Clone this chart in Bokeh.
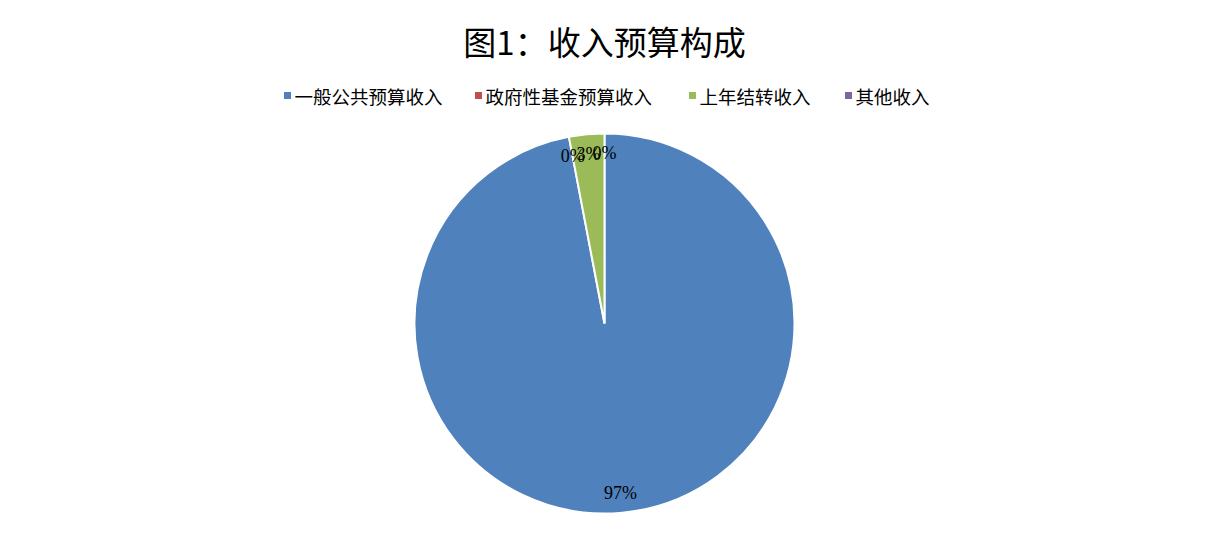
import math
from bokeh.plotting import figure
from bokeh.models import ColumnDataSource, Range1d
from bokeh.core.properties import value
from bokeh.embed import file_html
from bokeh.resources import INLINE

# ---- data ----
title_text = "图1：收入预算构成"
categories = ["一般公共预算收入", "政府性基金预算收入", "上年结转收入", "其他收入"]
values = [97.0, 0.0, 3.0, 0.0]
colors = ["#4F81BD", "#C0504D", "#9BBB59", "#8064A2"]

W, H = 1191, 521
p = figure(width=W, height=H, x_range=Range1d(0, W), y_range=Range1d(0, H),
           output_backend="svg", toolbar_location=None, min_border=0)
p.axis.visible = False
p.xgrid.visible = False
p.ygrid.visible = False
p.outline_line_color = None
p.background_fill_color = "white"

cx, cy, r = 604, 198, 190
total = sum(values)
starts, ends, cols, lx, ly, labs = [], [], [], [], [], []
cum = 0.0
for v, c in zip(values, colors):
    a0 = math.pi / 2 - 2 * math.pi * cum / total
    a1 = math.pi / 2 - 2 * math.pi * (cum + v) / total
    mid = (a0 + a1) / 2
    if v > 0:
        starts.append(a0); ends.append(a1); cols.append(c)
    lx.append(cx + 0.895 * r * math.cos(mid))
    ly.append(cy + 0.895 * r * math.sin(mid))
    labs.append(f"{round(100 * v / total)}%")
    cum += v

src = ColumnDataSource(dict(s=starts, e=ends, c=cols))
p.wedge(x=cx, y=cy, radius=r, start_angle="s", end_angle="e", direction="clock",
        fill_color="c", line_color="white", line_width=2, source=src)

lsrc = ColumnDataSource(dict(x=lx, y=ly, t=labs))
p.text(x="x", y="y", text="t", source=lsrc, text_align="center", text_baseline="middle",
       text_font=value("Liberation Serif"), text_font_size="18px", text_color="black")

# title
p.text(x=[604], y=[481], text=[title_text], text_align="center", text_baseline="middle",
       text_font=value("Noto Sans CJK SC"), text_font_size="33px", text_color="black")

# legend
leg_x = [287, 478, 692, 848]
leg_y = 426
p.rect(x=leg_x, y=[leg_y] * 4, width=7, height=7, fill_color=colors, line_color=None)
p.text(x=[x + 7 for x in leg_x], y=[leg_y] * 4, text=categories, text_align="left",
       text_baseline="middle", text_font=value("Noto Sans CJK SC"), text_font_size="18.5px",
       text_color="black")

open("out.html", "w").write(file_html(p, INLINE))
